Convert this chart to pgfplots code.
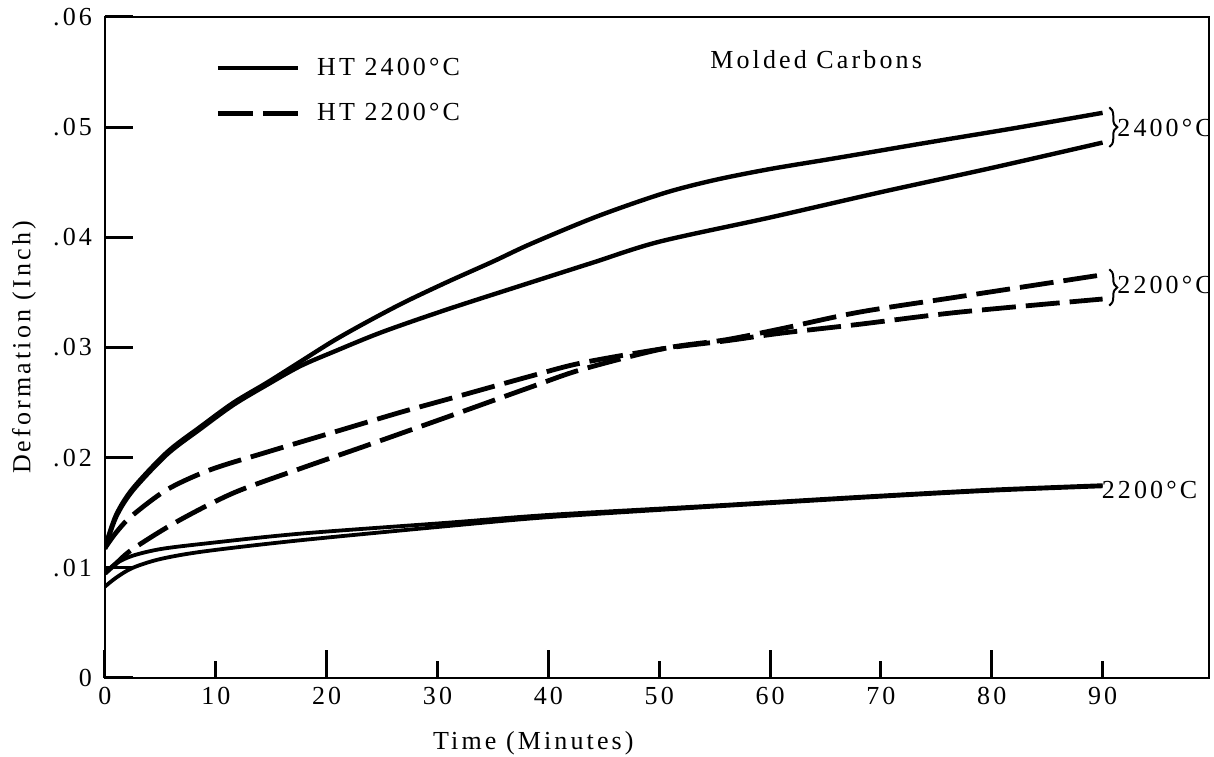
\documentclass[border=0pt]{standalone}
\usepackage{fontspec}
\setmainfont{Liberation Serif}[LetterSpace=12]
\usepackage{pgfplots}
\pgfplotsset{compat=1.18}
\usetikzlibrary{decorations.pathreplacing}
\begin{document}
\fontsize{13}{15}\selectfont
\begin{tikzpicture}
\begin{axis}[
  scale only axis, width=552pt, height=330.5pt,
  xmin=0, xmax=99.6, ymin=0, ymax=0.06,
  axis line style={line width=1.3pt},
  tick align=inside, xtick pos=bottom, ytick pos=left,
  /pgf/number format/assume math mode=true,
  xtick={0,20,40,60,80},
  extra x ticks={10,30,50,70,90},
  extra x tick style={major tick length=8.5pt},
  ytick={0,0.01,0.02,0.03,0.04,0.05,0.06},
  yticklabels={0,.01,.02,.03,.04,.05,.06},
  yticklabel style={xshift=-2pt},
  scaled y ticks=false,
  major tick length=14pt,
  tick style={line width=1.5pt, black},
  xlabel={Time (Minutes)}, ylabel={Deformation (Inch)},
  x label style={at={(rel axis cs:0.388,0)}, anchor=north, yshift=-22pt},
  y label style={at={(rel axis cs:0,0.5)}, anchor=south, yshift=30pt},
  legend style={draw=none, fill=none, at={(rel axis cs:0.0996,0.945)}, anchor=north west,
    row sep=8pt, inner sep=0pt, nodes={inner sep=2pt, anchor=west}},
  legend cell align=left,
  legend image code/.code={\draw[#1] (0pt,0pt) -- (40pt,0pt);},
  /tikz/every odd column/.append style={column sep=6.5pt},
]
\addlegendimage{line width=2pt}
\addlegendentry{HT 2400°C}
\addlegendimage{line width=2.4pt, dash pattern=on 17.5pt off 5pt}
\addlegendentry{HT 2200°C}

% 2400 solid, upper
\addplot[line width=2.2pt, smooth, forget plot] coordinates {
(0,0.0119) (1,0.0148) (2.5,0.0172) (5.6,0.0205) (8.6,0.0228) (11.6,0.0250) (14.6,0.0268)
(17.6,0.0287) (20.6,0.0306) (23.6,0.0323) (27,0.0341) (31,0.0360) (35,0.0378)
(38.4,0.0394) (44.4,0.0419) (50.4,0.0440) (55,0.0452) (60,0.0462) (66,0.0472)
(74.2,0.0486) (82,0.0499) (90,0.0513)};
% 2400 solid, lower
\addplot[line width=2.2pt, smooth, forget plot] coordinates {
(0,0.0117) (1,0.0146) (2.5,0.0170) (5.6,0.0203) (8.6,0.0226) (11.6,0.0248) (14.6,0.0266)
(17.6,0.0283) (20.6,0.0296) (25,0.0314) (31,0.0335) (38.4,0.0359) (44,0.0377)
(50,0.0396) (60,0.0418) (70,0.0441) (80,0.0463) (90,0.0486)};
% 2200 dashed, starting high
\addplot[line width=2.4pt, dash pattern=on 17pt off 5pt, smooth, forget plot] coordinates {
(0,0.0118) (1,0.0132) (2.4,0.0147) (5.6,0.0171) (9.5,0.0189) (14.6,0.0205) (20.6,0.0223)
(26.6,0.0241) (30.9,0.0253) (38.4,0.0274) (43,0.0286) (50.4,0.0299) (56,0.0306)
(61,0.0313) (68,0.0321) (77,0.0332) (90,0.0344)};
% 2200 dashed, starting low
\addplot[line width=2.4pt, dash pattern=on 17pt off 5pt, smooth, forget plot] coordinates {
(0,0.0095) (1,0.0104) (2.5,0.0117) (6.5,0.0142) (11.6,0.0168) (17.6,0.0190) (23.6,0.0211)
(30.9,0.0237) (38.4,0.0264) (43,0.0280) (50.4,0.0299) (56,0.0307) (61,0.0317)
(68,0.0332) (77,0.0346) (90,0.0366)};
% 2200 solid (lower pair)
\addplot[line width=1.9pt, smooth, forget plot] coordinates {
(0,0.0095) (1,0.0104) (2.5,0.0111) (5,0.0117) (9,0.0122) (17.6,0.0131) (31,0.0141)
(40,0.0148) (54,0.0156) (69,0.0165) (80,0.0171) (90,0.0175)};
\addplot[line width=1.9pt, smooth, forget plot] coordinates {
(0,0.0083) (1,0.0091) (2.5,0.0100) (5,0.0108) (9,0.0115) (17.6,0.0125) (31,0.0138)
(40,0.0146) (54,0.0155) (69,0.0164) (80,0.0170) (90,0.0174)};

\node[anchor=west] at (axis cs:53.8,0.0561) {Molded Carbons};
\draw[line width=1pt, decorate, decoration={brace, amplitude=4pt}]
  (axis cs:90.6,0.0518) -- (axis cs:90.6,0.0482);
\node[anchor=west, inner sep=0pt] at (axis cs:91.3,0.0499) {2400°C};
\draw[line width=1pt, decorate, decoration={brace, amplitude=4pt}]
  (axis cs:90.6,0.0371) -- (axis cs:90.6,0.0338);
\node[anchor=west, inner sep=0pt] at (axis cs:91.3,0.0357) {2200°C};
\node[anchor=west, inner sep=0pt] at (axis cs:89.9,0.0171) {2200°C};
\end{axis}
\pgfresetboundingbox
\path[use as bounding box] ([shift={(-52.5pt,-39.5pt)}]current axis.south west)
  rectangle ([shift={(2.5pt,8.5pt)}]current axis.north east);
\end{tikzpicture}
\end{document}
